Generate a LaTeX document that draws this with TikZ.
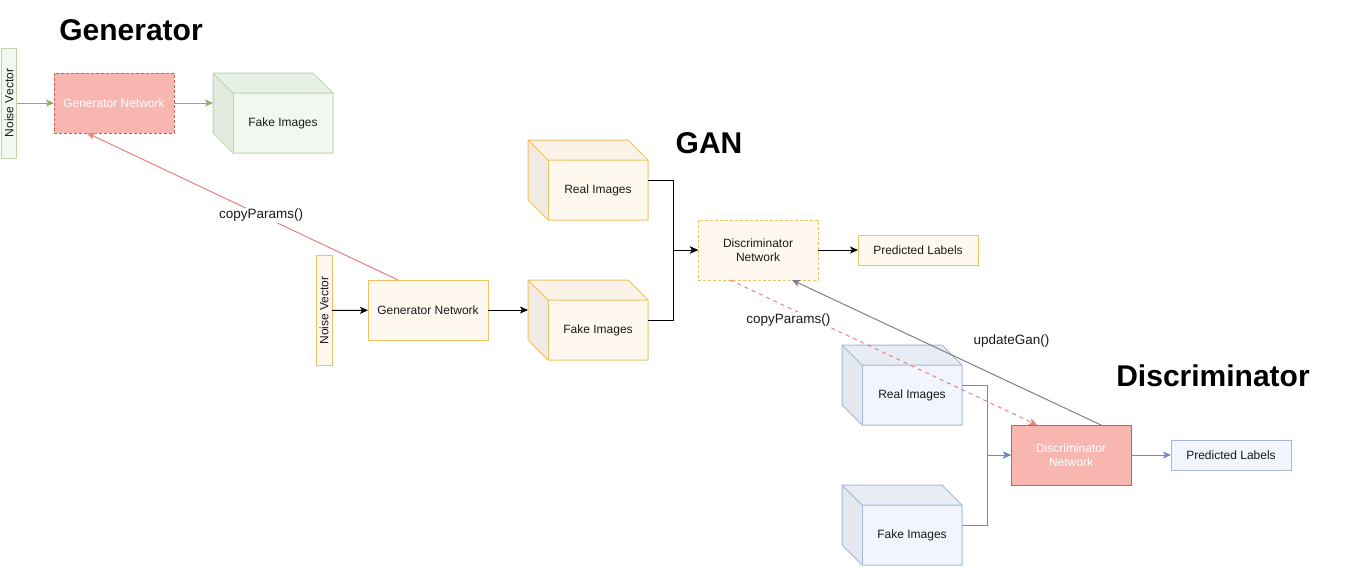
\documentclass[tikz,border=0pt]{standalone}
\usepackage{fontspec}
\setmainfont{Liberation Sans}
\usetikzlibrary{arrows.meta,calc}
\definecolor{gstroke}{HTML}{BCD6B0}
\definecolor{gfront}{HTML}{F1F8EF}
\definecolor{gtop}{HTML}{E7F0E4}
\definecolor{gleft}{HTML}{E2EAE0}
\definecolor{garrowc}{HTML}{82B366}
\definecolor{ostroke}{HTML}{EEC266}
\definecolor{ofront}{HTML}{FEF8EF}
\definecolor{otop}{HTML}{FBF2E8}
\definecolor{oleft}{HTML}{F1EBE3}
\definecolor{bstroke}{HTML}{A3B7D9}
\definecolor{bfront}{HTML}{F2F5FD}
\definecolor{btop}{HTML}{E8ECF5}
\definecolor{bleft}{HTML}{E3E7F0}
\definecolor{barrowc}{HTML}{6C8EBF}
\definecolor{rfill}{HTML}{F7B7B0}
\definecolor{rstroke}{HTML}{C95F59}
\definecolor{rline}{HTML}{E8807B}
\definecolor{txt}{HTML}{1A1A1A}
\definecolor{gray1}{HTML}{808080}

\newcommand{\imgcube}[4]{%
  \node[cubeouter] (#1) at (#2) {};
  \fill[#3top] (#1.north west) -- ++(100,0) -- ($(#1.north east)+(0,20)$) -- ($(#1.north west)+(20,20)$) -- cycle;
  \fill[#3left] (#1.north west) -- ($(#1.north west)+(20,20)$) -- ($(#1.south west)+(20,0)$) -- ($(#1.south west)+(0,-20)$) -- cycle;
  \fill[#3front] ($(#1.north west)+(20,20)$) rectangle (#1.south east);
  \draw[#3stroke, line width=1pt, line join=round] (#1.north west) -- ++(100,0) -- ($(#1.north east)+(0,20)$) -- (#1.south east) -- ($(#1.south west)+(20,0)$) -- ($(#1.south west)+(0,-20)$) -- cycle;
  \draw[#3stroke, line width=1pt] (#1.north west) -- ($(#1.north west)+(20,20)$) -- ($(#1.north east)+(0,20)$);
  \draw[#3stroke, line width=1pt] ($(#1.north west)+(20,20)$) -- ($(#1.south west)+(20,0)$);
  \node[lbl] (#1-t) at ($(#1.center)+(10,10)$) {#4};
}

\begin{document}
\begin{tikzpicture}[x=1pt,y=-1pt,
  lbl/.style={font=\fontsize{12}{14}\selectfont, text=txt, align=center, inner sep=0pt},
  title/.style={font=\fontsize{30}{36}\selectfont\bfseries, text=black, inner sep=0pt},
  cubeouter/.style={rectangle, draw=none, minimum width=120pt, minimum height=80pt, inner sep=0pt, outer sep=0pt},
  box/.style={rectangle, minimum width=120pt, minimum height=60pt, inner sep=0pt, outer sep=0pt, align=center, line width=1pt, font=\fontsize{12}{14}\selectfont, text=txt},
  noise/.style={box, rotate=90, minimum width=110pt, minimum height=15pt},
  elabel/.style={font=\fontsize{13.5}{16}\selectfont, text=txt, inner sep=1pt},
  tip/.style={-{Stealth[length=8pt,width=7pt,inset=2pt]}},
  gedge/.style={tip, draw=garrowc, line width=1pt},
  kedge/.style={tip, draw=black, line width=1pt},
  bedge/.style={tip, draw=barrowc, line width=1pt},
]
\useasboundingbox (0,0) rectangle (1348,566);

% ---------------- Generator ----------------
\node[title] (tGen) at (131,30) {Generator};
\node[noise, fill=gfront, draw=gstroke] (nvG) at (9,103) {Noise Vector};
\node[box, fill=rfill, draw=rstroke, dash pattern=on 3pt off 2pt, text=white] (genG) at (114,103) {Generator Network};
\imgcube{fakeG}{273,113}{g}{Fake Images}
\draw[gedge] (nvG) -- (genG);
\draw[gedge] (genG.east) -- (genG.east -| fakeG.west);

% ---------------- GAN ----------------
\node[title] (tGAN) at (709,143) {GAN};
\node[noise, fill=ofront, draw=ostroke, minimum height=16pt] (nvGAN) at (324,310.5) {Noise Vector};
\node[box, fill=ofront, draw=ostroke] (genGAN) at (428,310) {Generator Network};
\imgcube{realGAN}{588,180}{o}{Real Images}
\imgcube{fakeGAN}{588,320}{o}{Fake Images}
\node[box, fill=ofront, draw=ostroke, dash pattern=on 3pt off 2pt] (discGAN) at (758,250) {Discriminator\\Network};
\node[box, fill=ofront, draw=ostroke, minimum height=30pt] (predGAN) at (918,250) {Predicted Labels};
\draw[kedge] (nvGAN) -- (genGAN);
\draw[kedge] (genGAN.east) -- (genGAN.east -| fakeGAN.west);
\draw[kedge] (realGAN.east) -- ++(25,0) |- (discGAN.west);
\draw[kedge] (fakeGAN.east) -- ++(25,0) |- (discGAN.west);
\draw[kedge] (discGAN) -- (predGAN);

% ---------------- Discriminator ----------------
\node[title] (tDisc) at (1213,376) {Discriminator};
\imgcube{realD}{902,385}{b}{Real Images}
\imgcube{fakeD}{902,525}{b}{Fake Images}
\node[box, fill=rfill, draw=rstroke, text=white] (discD) at (1071,455) {Discriminator\\Network};
\node[box, fill=bfront, draw=bstroke, minimum height=30pt] (predD) at (1231,455) {Predicted Labels};
\draw[bedge] (realD.east) -- ++(25,0) |- (discD.west);
\draw[bedge] (fakeD.east) -- ++(25,0) |- (discD.west);
\draw[bedge] (discD) -- (predD);

% ---------------- cross connectors ----------------
\draw[tip, draw=rline, line width=1pt] ($(genGAN.north west)+(30,0)$) -- node[elabel, fill=white, pos=0.44] (lcp1) {copyParams()} ($(genG.south west)+(33,0)$);
\draw[tip, draw=rline, line width=1pt, dash pattern=on 4pt off 4pt] ($(discGAN.south west)+(32,0)$) -- node[elabel, fill=white, pos=0.19, yshift=-12pt] (lcp2) {copyParams()} ($(discD.north west)+(26,0)$);
\draw[tip, draw=gray1, line width=1pt] ($(discD.north east)+(-30,0)$) -- node[elabel, pos=0.29, yshift=42pt] (lug) {updateGan()} ($(discGAN.south east)+(-26,0)$);
\end{tikzpicture}
\end{document}
